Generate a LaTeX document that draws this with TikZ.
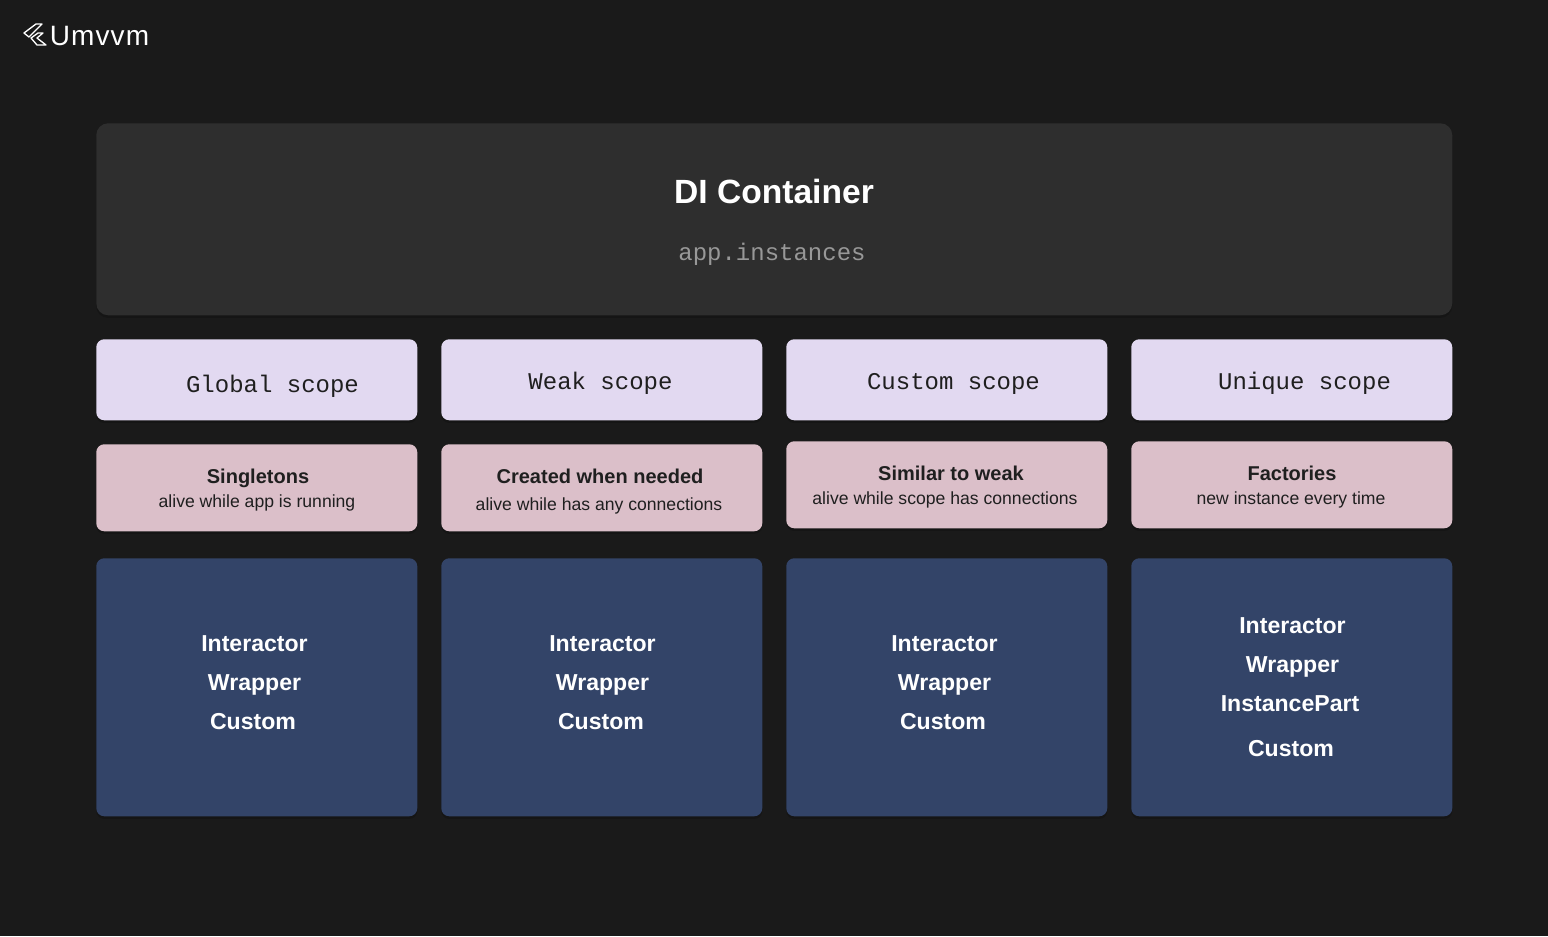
\documentclass[tikz,border=0pt]{standalone}
\usepackage{fontspec}
\usepackage{xcolor}
\setmainfont{Liberation Sans}
\setmonofont{Liberation Mono}
\usetikzlibrary{shadows}
\definecolor{pagebg}{HTML}{1A1A1A}
\definecolor{containerbg}{HTML}{2E2E2E}
\definecolor{scopebg}{HTML}{E2D9F1}
\definecolor{lifebg}{HTML}{DBBFC9}
\definecolor{partsbg}{HTML}{334468}
\definecolor{inkdark}{HTML}{1F1F1F}
\definecolor{inkgrey}{HTML}{989898}

\begin{document}
\begin{tikzpicture}[x=0.75pt,y=-0.75pt]

		\tikzstyle{panel}  = [anchor=north west, rounded corners=6pt, inner sep=0pt, drop shadow={fill=black, shadow xshift=0pt, shadow yshift=-2pt, opacity=0.18}]
		\tikzstyle{scopebox}  = [panel, fill=scopebg, minimum width=240.75pt, minimum height=60.75pt]
		\tikzstyle{lifebox}  = [panel, fill=lifebg, minimum width=240.75pt, minimum height=65.25pt]
		\tikzstyle{partsbox}  = [panel, fill=partsbg, minimum width=240.75pt, minimum height=193.5pt]
		\tikzstyle{scopetext}  = [anchor=base, inner sep=0pt, text=inkdark, font=\ttfamily\fontsize{18}{18}\selectfont]
		\tikzstyle{lifehead}  = [anchor=base, inner sep=0pt, text=inkdark, font=\bfseries\fontsize{15}{16}\selectfont]
		\tikzstyle{lifenote}  = [anchor=base, inner sep=0pt, text=inkdark, font=\fontsize{13.2}{14}\selectfont]
		\tikzstyle{partstext}  = [anchor=base, inner sep=0pt, text=white, font=\bfseries\fontsize{17.3}{18}\selectfont]
		%%Page
		\fill [pagebg] (0,0) rectangle (1548,936);
		\useasboundingbox (0,0) rectangle (1548,936);
		%%Logo
		\draw [white, line width=1pt, line join=round] (24,33) -- (36,24) -- (42,24) -- (29,37) -- cycle;
		\draw [white, line width=1pt, line join=round] (31,38) -- (38,33) -- (43,33) -- (37,38) -- (46,45) -- (37,45) -- cycle;
		\node [anchor=base, inner sep=0pt, text=white, font=\fontsize{21}{21}\selectfont](title) at (99.5,45) {\addfontfeature{LetterSpace=4}Umvvm};
		%%Container
		\node [panel, rounded corners=9pt, fill=containerbg, minimum width=1017pt, minimum height=144pt](container) at (96,123) {};
		\node [anchor=base, inner sep=0pt, text=white, font=\bfseries\fontsize{25.2}{26}\selectfont](containername) at (774,203) {DI Container};
		\node [anchor=base, inner sep=0pt, text=inkgrey, font=\ttfamily\fontsize{18}{18}\selectfont](containerfield) at (772,260) {app.instances};
		%%Scopes
		\node [scopebox](global) at (96,339) {};
		\node [scopebox](weak) at (441,339) {};
		\node [scopebox](custom) at (786,339) {};
		\node [scopebox](unique) at (1131,339) {};
		\node [scopetext](globaltext) at (272.5,392.5) {Global scope};
		\node [scopetext](weaktext) at (600.5,389.5) {Weak scope};
		\node [scopetext](customtext) at (953.5,389.5) {Custom scope};
		\node [scopetext](uniquetext) at (1304.5,389.5) {Unique scope};
		%%Lifetimes
		\node [lifebox](single) at (96,444) {};
		\node [lifebox](created) at (441,444) {};
		\node [lifebox](similar) at (786,441) {};
		\node [lifebox](factory) at (1131,441) {};
		\node [lifehead](singlehead) at (258,483) {Singletons};
		\node [lifenote](singlenote) at (257,507) {alive while app is running};
		\node [lifehead](createdhead) at (600,483) {Created when needed};
		\node [lifenote](creatednote) at (599,510) {alive while has any connections};
		\node [lifehead](similarhead) at (951,480) {Similar to weak};
		\node [lifenote](similarnote) at (945,504) {alive while scope has connections};
		\node [lifehead](factoryhead) at (1292,480) {Factories};
		\node [lifenote](factorynote) at (1291,504) {new instance every time};
		%%Parts
		\node [partsbox](globalparts) at (96,558) {};
		\node [partsbox](weakparts) at (441,558) {};
		\node [partsbox](customparts) at (786,558) {};
		\node [partsbox](uniqueparts) at (1131,558) {};
		\node [partstext](ga) at (254.5,651) {Interactor};
		\node [partstext](gb) at (254.5,690) {Wrapper};
		\node [partstext](gc) at (253,729) {Custom};
		\node [partstext](wa) at (602.5,651) {Interactor};
		\node [partstext](wb) at (602.5,690) {Wrapper};
		\node [partstext](wc) at (601,729) {Custom};
		\node [partstext](ca) at (944.5,651) {Interactor};
		\node [partstext](cb) at (944.5,690) {Wrapper};
		\node [partstext](cc) at (943,729) {Custom};
		\node [partstext](ua) at (1292.5,633) {Interactor};
		\node [partstext](ub) at (1292.5,672) {Wrapper};
		\node [partstext](uc) at (1290,711) {InstancePart};
		\node [partstext](ud) at (1291,756) {Custom};
	\end{tikzpicture}
\end{document}
